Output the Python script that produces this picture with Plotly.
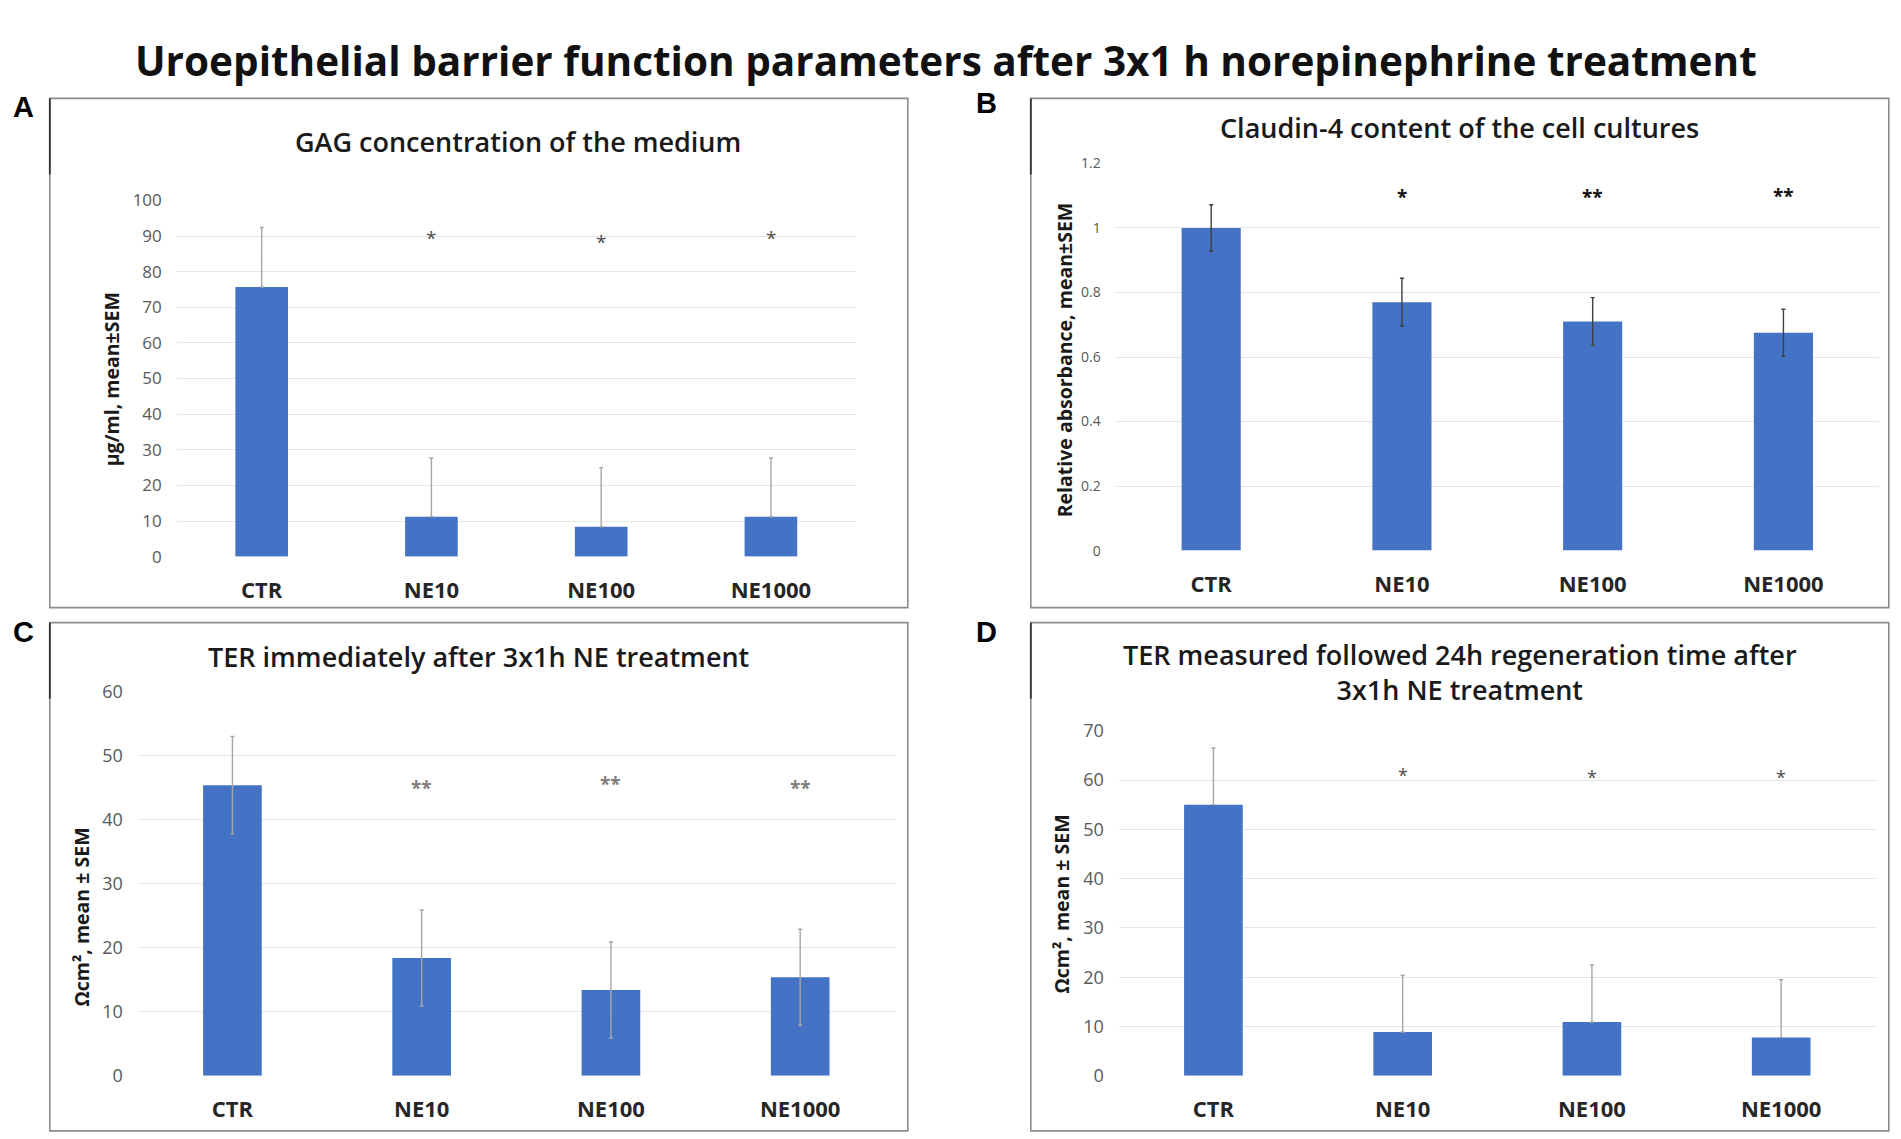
import plotly.graph_objects as go

# ---------------- data ----------------
categories = ["CTR", "NE10", "NE100", "NE1000"]

gag_mean = [75.7, 11.2, 8.4, 11.2]
gag_sem = [16.7, 16.5, 16.6, 16.5]
gag_star_text = ["", "*", "*", "*"]
gag_star_y = [None, 90.8, 89.8, 90.8]

cld_mean = [1.0, 0.77, 0.71, 0.675]
cld_sem = [0.072, 0.074, 0.074, 0.073]
cld_star_text = ["", "*", "**", "**"]
cld_star_y = [None, 1.113, 1.11, 1.115]

ter0_mean = [45.4, 18.4, 13.4, 15.4]
ter0_sem = [7.6, 7.5, 7.5, 7.5]
ter0_star_text = ["", "**", "**", "**"]
ter0_star_y = [None, 45.8, 46.4, 45.7]

ter24_mean = [55.0, 8.9, 10.9, 7.8]
ter24_sem = [11.5, 11.5, 11.6, 11.7]
ter24_star_text = ["", "*", "*", "*"]
ter24_star_y = [None, 62.1, 61.6, 61.6]

main_title = "Uroepithelial barrier function parameters after 3x1 h norepinephrine treatment"
panel_titles = [
    "GAG concentration of the medium",
    "Claudin-4 content of the cell cultures",
    "TER immediately after 3x1h NE treatment",
    "TER measured followed 24h regeneration time after<br>3x1h NE treatment",
]
panel_letters = ["A", "B", "C", "D"]
y_titles = ["μg/ml, mean±SEM", "Relative absorbance, mean±SEM",
            "Ωcm², mean ± SEM", "Ωcm², mean ± SEM"]

# ---------------- layout helpers ----------------
W, H = 1901, 1139
def fx(x):
    return (x - 8.2) / W
def fy(y):
    return 1 - (1.022 * y - 22.1) / H

FONT = "Open Sans, Lato, DejaVu Sans, sans-serif"
BAR_COLOR = "#4472C4"
GRID = "#E6E6E6"

panels = [
    dict(px=(177, 856), py=(201, 557), yr=[0, 100], dtick=10, tick_size=17,
         box=(50, 908, 99, 608), letter=(24, 108), title=(518, 142),
         ytitle=(112, 380), err_color="#A6A6A6", plus_only=True,
         star_color="#4D4D4D", star_size=19, star_weight=400),
    dict(px=(1116, 1879), py=(164, 551), yr=[0, 1.2], dtick=0.2, tick_size=14,
         box=(1031, 1889, 99, 608), letter=(987, 104), title=(1460, 128),
         ytitle=(1065, 360), err_color="#404040", plus_only=False,
         star_color="#111111", star_size=19, star_weight=700),
    dict(px=(138, 895), py=(692, 1076), yr=[0, 60], dtick=10, tick_size=18,
         box=(50, 908, 623, 1131), letter=(24, 632), title=(479, 657),
         ytitle=(82, 917), err_color="#A6A6A6", plus_only=False,
         star_color="#7F7F7F", star_size=19, star_weight=700),
    dict(px=(1119, 1876), py=(731, 1076), yr=[0, 70], dtick=10, tick_size=18,
         box=(1031, 1889, 623, 1131), letter=(987, 632), title=(1460, 672),
         ytitle=(1062, 904), err_color="#A6A6A6", plus_only=True,
         star_color="#4D4D4D", star_size=18, star_weight=400),
]

means = [gag_mean, cld_mean, ter0_mean, ter24_mean]
sems = [gag_sem, cld_sem, ter0_sem, ter24_sem]
star_texts = [gag_star_text, cld_star_text, ter0_star_text, ter24_star_text]
star_ys = [gag_star_y, cld_star_y, ter0_star_y, ter24_star_y]

fig = go.Figure()
annotations = []
shapes = []
layout_axes = {}

for i, p in enumerate(panels):
    n = "" if i == 0 else str(i + 1)
    xa, ya = "x" + n, "y" + n
    if p["plus_only"]:
        err = dict(type="data", array=sems[i], arrayminus=[0] * len(sems[i]),
                   symmetric=False, color=p["err_color"], thickness=1.4, width=2)
    else:
        err = dict(type="data", array=sems[i], symmetric=True,
                   color=p["err_color"], thickness=1.4, width=2)
    fig.add_trace(go.Bar(x=categories, y=means[i], marker=dict(color=BAR_COLOR, line=dict(width=0)),
                         error_y=err, xaxis=xa, yaxis=ya, showlegend=False,
                         hoverinfo="x+y"))
    layout_axes["xaxis" + n] = dict(
        domain=[fx(p["px"][0]), fx(p["px"][1])], anchor=ya, type="category",
        showgrid=False, showline=False, zeroline=False, ticks="",
        tickfont=dict(family=FONT, size=22, color="#262626", weight=700),
        ticklabelstandoff=18, fixedrange=True)
    layout_axes["yaxis" + n] = dict(
        domain=[fy(p["py"][1]), fy(p["py"][0])], anchor=xa, range=p["yr"],
        dtick=p["dtick"], tick0=0, showgrid=True, gridcolor=GRID, gridwidth=1.2,
        showline=False, zeroline=False, ticks="",
        tickfont=dict(family=FONT, size=p["tick_size"], color="#595959"),
        ticklabelstandoff=14, fixedrange=True)

    for c, t, yv in zip(categories, star_texts[i], star_ys[i]):
        if t and yv is not None:
            annotations.append(dict(
                x=c, y=yv, xref=xa, yref=ya, text=t, showarrow=False,
                yanchor="middle", yshift=-5,
                font=dict(family=FONT, size=p["star_size"], color=p["star_color"],
                          weight=p["star_weight"])))

    annotations.append(dict(
        x=fx(p["title"][0]), y=fy(p["title"][1]), xref="paper", yref="paper",
        text=panel_titles[i], showarrow=False, xanchor="center", yanchor="middle",
        font=dict(family=FONT, size=27, color="#1A1A1A", weight=600)))
    annotations.append(dict(
        x=fx(p["letter"][0]), y=fy(p["letter"][1]), xref="paper", yref="paper",
        text=panel_letters[i], showarrow=False, xanchor="center", yanchor="middle",
        font=dict(family="Liberation Sans, Arial, sans-serif", size=29, color="#000000", weight=700)))
    annotations.append(dict(
        x=fx(p["ytitle"][0]), y=fy(p["ytitle"][1]), xref="paper", yref="paper",
        text=y_titles[i], showarrow=False, textangle=-90, xanchor="center", yanchor="middle",
        font=dict(family=FONT, size=19.5, color="#1A1A1A", weight=700)))

    bx0, bx1, by0, by1 = p["box"]
    shapes.append(dict(type="rect", xref="paper", yref="paper",
                       x0=fx(bx0), x1=fx(bx1), y0=fy(by1), y1=fy(by0),
                       line=dict(color="#8C8C8C", width=1.6), layer="below"))
    shapes.append(dict(type="line", xref="paper", yref="paper",
                       x0=fx(bx0), x1=fx(bx0), y0=fy(by0), y1=fy(by0 + 76),
                       line=dict(color="#333333", width=1.8)))

annotations.append(dict(
    x=fx(946), y=fy(61), xref="paper", yref="paper", text=main_title,
    showarrow=False, xanchor="center", yanchor="middle",
    font=dict(family=FONT, size=40.5, color="#111111", weight=700)))

fig.update_layout(
    width=W, height=H, margin=dict(l=0, r=0, t=0, b=0),
    paper_bgcolor="white", plot_bgcolor="white",
    bargap=0.69, showlegend=False,
    annotations=annotations, shapes=shapes,
    font=dict(family=FONT),
    **layout_axes,
)

fig.write_html("out.html")
